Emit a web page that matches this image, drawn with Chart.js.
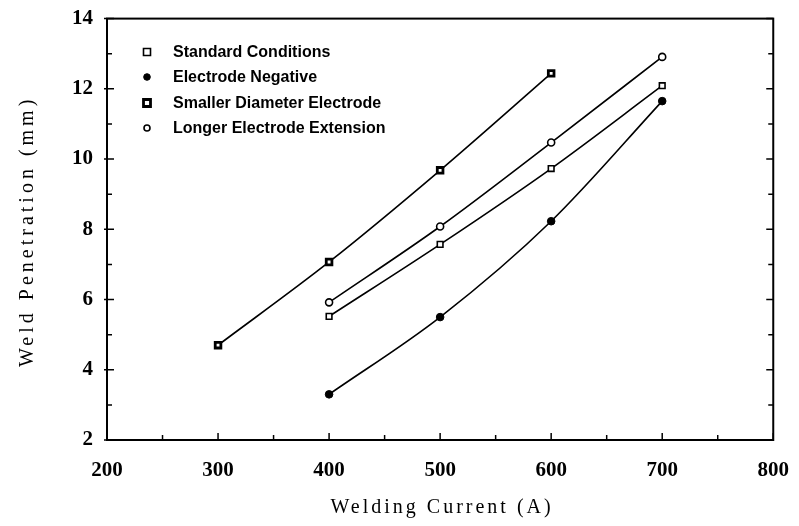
<!DOCTYPE html>
<html>
<head>
<meta charset="utf-8">
<script src="https://cdn.jsdelivr.net/npm/chart.js@4/dist/chart.umd.min.js"></script>
<style>
  html, body { margin: 0; padding: 0; background: #fff; }
  canvas { display: block; }
</style>
</head>
<body>
<canvas id="chartWeld" width="799" height="526"></canvas>
<script>
// welding current (A) and penetration depth (mm) for each test series
const currentStd = [400, 500, 600, 700];
const penStandard = [5.52, 7.57, 9.73, 12.09];
const currentNeg = [400, 500, 600, 700];
const penNegative = [3.30, 5.50, 8.23, 11.65];
const currentSmall = [300, 400, 500, 600];
const penSmaller = [4.70, 7.07, 9.68, 12.44];
const currentLong = [400, 500, 600, 700];
const penLonger = [5.92, 8.08, 10.47, 12.91];

const seriesNames = [
    'Standard Conditions',
    'Electrode Negative',
    'Smaller Diameter Electrode',
    'Longer Electrode Extension'
];
const xTicks = [200, 300, 400, 500, 600, 700, 800];
const yTicks = [2, 4, 6, 8, 10, 12, 14];

function pairs(xs, ys) {
    return xs.map(function(x, i) { return { x: x, y: ys[i] }; });
}

// marker look per series: [pointStyle, fill, borderWidth, radius]
const markers = [
    ['rect', '#fff', 1.6, 4],
    ['circle', '#000', 1, 3.8],
    ['rect', '#fff', 2.8, 4],
    ['circle', '#fff', 1.6, 3.5]
];

function drawMarker(ctx, m, x, y) {
    ctx.save();
    ctx.lineWidth = m[2];
    ctx.strokeStyle = '#000';
    ctx.fillStyle = m[1];
    ctx.beginPath();
    if (m[0] === 'rect') {
        ctx.rect(x - m[3] + 0.5, y - m[3] + 0.5, m[3] * 2 - 1, m[3] * 2 - 1);
    } else {
        ctx.arc(x, y, m[3] - 0.5, 0, Math.PI * 2);
    }
    ctx.fill();
    ctx.stroke();
    ctx.restore();
}

// frame, inward ticks, titles and the in-plot legend
const framePlugin = {
    id: 'frame',
    afterDraw: function(chart) {
        const ctx = chart.ctx;
        const a = chart.chartArea;
        const xs = chart.scales.x;
        const ys = chart.scales.y;
        ctx.save();
        ctx.strokeStyle = '#000';
        ctx.lineWidth = 2;
        ctx.strokeRect(a.left, a.top, a.right - a.left, a.bottom - a.top);

        ctx.lineWidth = 1.5;
        for (let v = 200; v <= 800; v += 50) {
            const px = xs.getPixelForValue(v);
            const len = v % 100 === 0 ? 7 : 5;
            ctx.beginPath();
            ctx.moveTo(px, a.bottom);
            ctx.lineTo(px, a.bottom - len);
            ctx.stroke();
        }
        for (let v = 2; v <= 14; v += 1) {
            const py = ys.getPixelForValue(v);
            const len = v % 2 === 0 ? 7 : 5;
            ctx.beginPath();
            ctx.moveTo(a.left - (v % 2 === 0 ? 3 : 0), py);
            ctx.lineTo(a.left + len, py);
            ctx.moveTo(a.right, py);
            ctx.lineTo(a.right - len, py);
            ctx.stroke();
        }

        ctx.fillStyle = '#000';
        ctx.textAlign = 'center';
        ctx.textBaseline = 'middle';
        ctx.font = '20px "Liberation Serif", "DejaVu Serif", serif';
        ctx.letterSpacing = '3px';
        ctx.fillText('Welding Current (A)', (a.left + a.right) / 2 + 2, 508);
        ctx.save();
        ctx.translate(28, (a.top + a.bottom) / 2 + 2);
        ctx.rotate(-Math.PI / 2);
        ctx.letterSpacing = '4px';
        ctx.fillText('Weld Penetration (mm)', 0, 0);
        ctx.restore();

        ctx.letterSpacing = '0px';
        ctx.textAlign = 'left';
        ctx.font = 'bold 16px "Liberation Sans", Arial, sans-serif';
        const rows = [52, 77, 103, 128];
        seriesNames.forEach(function(name, i) {
            drawMarker(ctx, markers[i], 147, rows[i]);
            ctx.fillText(name, 173, rows[i] + 1);
        });
        ctx.restore();
    }
};

document.addEventListener('DOMContentLoaded', function() {
    const ctxWeld = document.getElementById('chartWeld').getContext('2d');
    const sets = [
        pairs(currentStd, penStandard),
        pairs(currentNeg, penNegative),
        pairs(currentSmall, penSmaller),
        pairs(currentLong, penLonger)
    ];

    new Chart(ctxWeld, {
        type: 'line',
        data: {
            datasets: sets.map(function(pts, i) {
                return {
                    label: seriesNames[i],
                    data: pts,
                    borderColor: '#000',
                    borderWidth: 1.6,
                    cubicInterpolationMode: 'monotone',
                    pointStyle: markers[i][0],
                    pointBackgroundColor: markers[i][1],
                    pointBorderColor: '#000',
                    pointBorderWidth: markers[i][2],
                    pointRadius: markers[i][3]
                };
            })
        },
        options: {
            responsive: false,
            animation: false,
            devicePixelRatio: 1,
            layout: { padding: { left: 0, top: 13, right: 25, bottom: 0 } },
            plugins: {
                legend: { display: false },
                tooltip: { enabled: false }
            },
            scales: {
                x: {
                    type: 'linear',
                    min: 200,
                    max: 800,
                    afterBuildTicks: function(scale) {
                        scale.ticks = xTicks.map(function(v) { return { value: v }; });
                    },
                    grid: { display: false },
                    border: { display: false },
                    ticks: {
                        color: '#000',
                        padding: 10,
                        maxRotation: 0,
                        minRotation: 0,
                        font: { family: '"Liberation Serif", "DejaVu Serif", serif', size: 21, weight: 'bold' }
                    },
                    afterFit: function(scale) { scale.height = 86; }
                },
                y: {
                    type: 'linear',
                    min: 2,
                    max: 14,
                    afterBuildTicks: function(scale) {
                        scale.ticks = yTicks.map(function(v) { return { value: v }; });
                    },
                    grid: { display: false },
                    border: { display: false },
                    ticks: {
                        color: '#000',
                        padding: 6,
                        font: { family: '"Liberation Serif", "DejaVu Serif", serif', size: 21, weight: 'bold' }
                    },
                    afterFit: function(scale) { scale.width = 107; }
                }
            }
        },
        plugins: [framePlugin]
    });
});
</script>
</body>
</html>
